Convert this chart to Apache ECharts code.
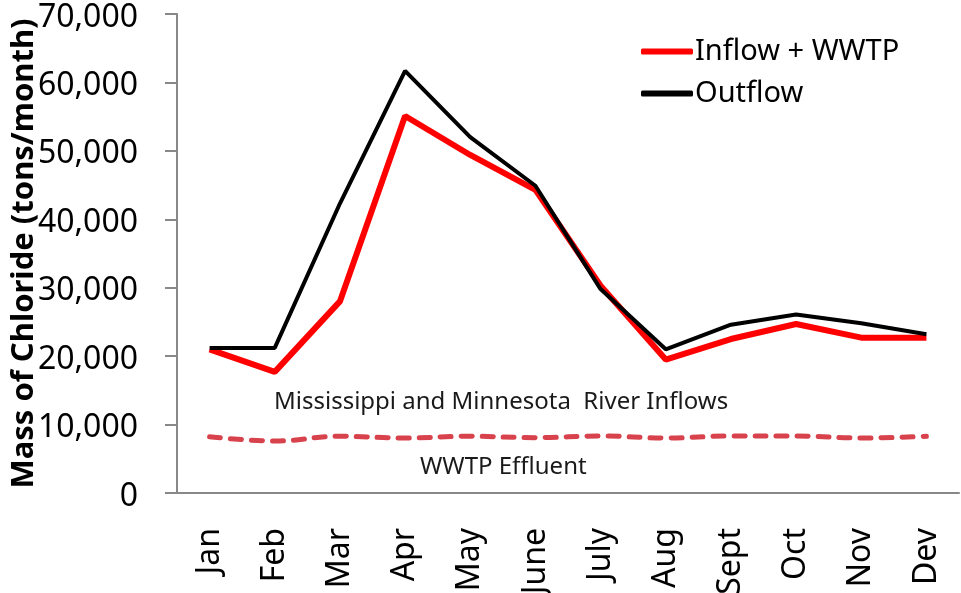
<!DOCTYPE html>
<html>
<head>
<meta charset="utf-8">
<script src="https://cdn.jsdelivr.net/npm/echarts@6/dist/echarts.min.js"></script>
<style>
  html, body { margin: 0; padding: 0; background: #fff; }
  #chart { width: 961px; height: 593px; }
</style>
</head>
<body>
<div id="chart"></div>
<script>
  var months = ['Jan', 'Feb', 'Mar', 'Apr', 'May', 'June', 'July', 'Aug', 'Sept', 'Oct', 'Nov', 'Dev'];
  var inflowWwtp = [21000, 17700, 28000, 55100, 49400, 44300, 30300, 19500, 22500, 24700, 22700, 22700];
  var outflow = [21200, 21200, 42300, 61700, 52000, 44900, 29800, 21000, 24600, 26100, 24800, 23200];
  var wwtpEffluent = [8230, 7600, 8290, 8040, 8290, 8090, 8330, 8040, 8330, 8330, 8040, 8290];

  var FONT = '"Noto Sans", "DejaVu Sans", sans-serif';
  var chart = echarts.init(document.getElementById('chart'));

  chart.setOption({
    animation: false,
    grid: { left: 177, right: 2, top: 14, bottom: 100, containLabel: false, outerBoundsMode: 'none' },
    legend: {
      orient: 'vertical',
      left: 636,
      top: 32,
      itemWidth: 52,
      itemHeight: 6,
      itemGap: 13,
      icon: 'roundRect',
      data: ['Inflow + WWTP', 'Outflow'],
      textStyle: { fontFamily: FONT, fontSize: 29, color: '#000', padding: [0, 0, 0, -3] }
    },
    xAxis: {
      type: 'category',
      data: months,
      boundaryGap: true,
      axisLine: { lineStyle: { color: '#888', width: 2 } },
      axisTick: { length: 11, lineStyle: { color: '#888', width: 2 } },
      axisLabel: { rotate: 90, margin: 35, color: '#000', fontFamily: FONT, fontSize: 32 }
    },
    yAxis: {
      type: 'value',
      min: 0,
      max: 70000,
      interval: 10000,
      name: 'Mass of Chloride (tons/month)',
      nameLocation: 'middle',
      nameGap: 137,
      nameMoveOverlap: false,
      nameTextStyle: { fontFamily: FONT, fontSize: 31, fontWeight: 'bold', color: '#000' },
      axisLine: { show: true, lineStyle: { color: '#888', width: 2 } },
      axisTick: { show: true, length: 12, lineStyle: { color: '#888', width: 2 } },
      splitLine: { show: false },
      axisLabel: {
        margin: 39,
        formatter: function (v) { return '{v|' + v.toLocaleString('en-US') + '}'; },
        rich: {
          v: { color: '#000', fontFamily: FONT, fontSize: 32, padding: [7, 0, 0, 0] }
        }
      }
    },
    series: [
      {
        name: 'Inflow + WWTP',
        type: 'line',
        data: inflowWwtp,
        symbol: 'none',
        z: 2,
        itemStyle: { color: '#ff0000' },
        lineStyle: { color: '#ff0000', width: 6 }
      },
      {
        name: 'Outflow',
        type: 'line',
        data: outflow,
        symbol: 'none',
        z: 3,
        itemStyle: { color: '#000' },
        lineStyle: { color: '#000', width: 4 }
      },
      {
        name: 'WWTP Effluent',
        type: 'line',
        data: wwtpEffluent,
        symbol: 'none',
        smooth: 0.4,
        lineStyle: { color: '#d8424c', width: 5, type: [11, 10], cap: 'round' }
      }
    ],
    graphic: [
      {
        type: 'text',
        left: 274,
        top: 390,
        style: { text: 'Mississippi and Minnesota  River Inflows', fill: '#1a1a1a', font: '24px ' + FONT }
      },
      {
        type: 'text',
        left: 420,
        top: 455,
        style: { text: 'WWTP Effluent', fill: '#1a1a1a', font: '24px ' + FONT }
      }
    ]
  });
</script>
</body>
</html>
